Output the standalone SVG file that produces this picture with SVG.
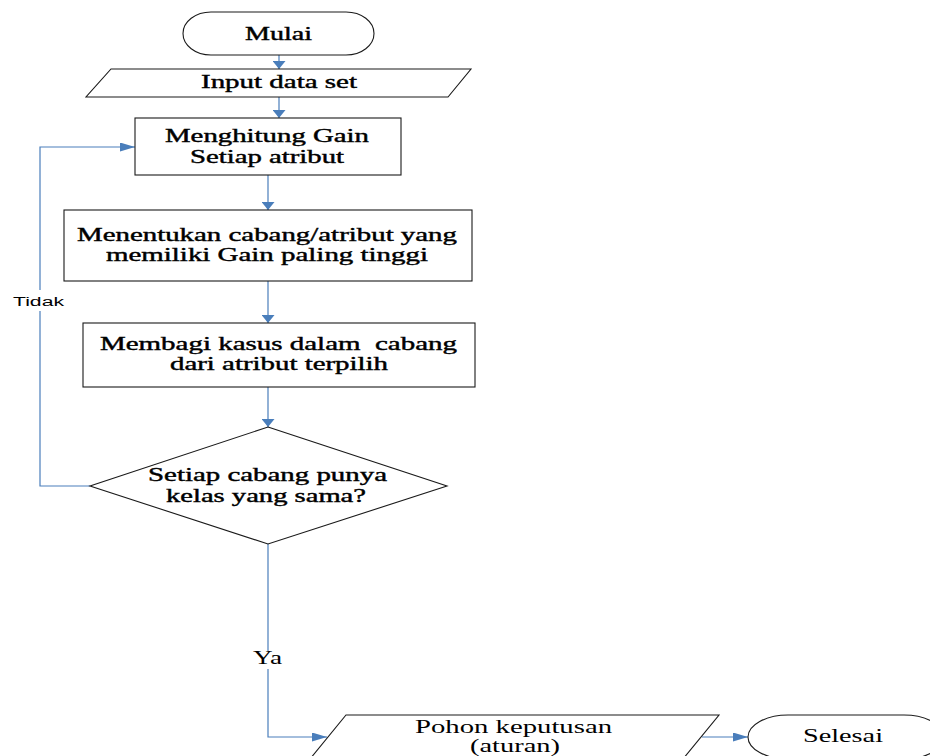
<svg xmlns="http://www.w3.org/2000/svg" width="930" height="756" viewBox="0 0 930 756">
<style>
.shape{fill:#fff;stroke:#1a1a1a;stroke-width:1.1}
.conn{fill:none;stroke:#4A7EBB;stroke-width:1.2}
.t{font-family:"Liberation Serif","Times New Roman",serif;font-size:18px;fill:#000}
.b{stroke:#000;stroke-width:0.4}
.s{font-family:"Liberation Sans",Arial,sans-serif;font-size:12px;fill:#000}
</style>
<defs>
<marker id="arrowV" markerUnits="userSpaceOnUse" viewBox="0 0 8 13" markerWidth="8" markerHeight="13" refX="8" refY="6.5" orient="auto"><path d="M0,0 L8,6.5 L0,13 Z" fill="#4A7EBB"/></marker>
<marker id="arrowH" markerUnits="userSpaceOnUse" viewBox="0 0 15 9" markerWidth="15" markerHeight="9" refX="15" refY="4.5" orient="auto"><path d="M0,0 L15,4.5 L0,9 Z" fill="#4A7EBB"/></marker>
</defs>
<rect width="930" height="756" fill="#fff"/>
<g id="connectors">
<path class="conn" d="M279,55 V69" marker-end="url(#arrowV)"/>
<path class="conn" d="M279,97 V118" marker-end="url(#arrowV)"/>
<path class="conn" d="M268,175 V210" marker-end="url(#arrowV)"/>
<path class="conn" d="M268,281 V323" marker-end="url(#arrowV)"/>
<path class="conn" d="M268,387 V427" marker-end="url(#arrowV)"/>
<path class="conn" d="M90,486 H40 V311"/>
<path class="conn" d="M40,290 V147 H135" marker-end="url(#arrowH)"/>
<path class="conn" d="M268,544 V651"/>
<path class="conn" d="M268,669 V737 H327" marker-end="url(#arrowH)"/>
<path class="conn" d="M702,737 H748" marker-end="url(#arrowH)"/>
<text class="s" x="13" y="306" textLength="51" lengthAdjust="spacingAndGlyphs">Tidak</text>
<text class="t" x="253" y="664" textLength="29" lengthAdjust="spacingAndGlyphs">Ya</text>
</g>
<g id="mulai">
<path class="shape" d="M211,12 H346 A28,21.5 0 0 1 346,55 H211 A28,21.5 0 0 1 211,12 Z"/>
<text class="t b" x="245" y="40" textLength="67" lengthAdjust="spacingAndGlyphs">Mulai</text>
</g>
<g id="input">
<polygon class="shape" points="111,69 471,69 448,97 86,97"/>
<text class="t b" x="201" y="88" textLength="156" lengthAdjust="spacingAndGlyphs">Input data set</text>
</g>
<g id="hitung">
<rect class="shape" x="135" y="118" width="266" height="57"/>
<text class="t b" x="165" y="142" textLength="204" lengthAdjust="spacingAndGlyphs">Menghitung Gain</text>
<text class="t b" x="190" y="163" textLength="154" lengthAdjust="spacingAndGlyphs">Setiap atribut</text>
</g>
<g id="tentukan">
<rect class="shape" x="64" y="210" width="408" height="71"/>
<text class="t b" x="77" y="241" textLength="380" lengthAdjust="spacingAndGlyphs">Menentukan cabang/atribut yang</text>
<text class="t b" x="106" y="261" textLength="322" lengthAdjust="spacingAndGlyphs">memiliki Gain paling tinggi</text>
</g>
<g id="bagi">
<rect class="shape" x="83" y="323" width="392" height="64"/>
<text class="t b" x="100" y="350" textLength="357" lengthAdjust="spacingAndGlyphs" xml:space="preserve">Membagi kasus dalam  cabang</text>
<text class="t b" x="170" y="370" textLength="218" lengthAdjust="spacingAndGlyphs">dari atribut terpilih</text>
</g>
<g id="keputusan">
<polygon class="shape" points="268,427 447,486 268,544 90,486"/>
<text class="t b" x="148" y="481" textLength="239" lengthAdjust="spacingAndGlyphs">Setiap cabang punya</text>
<text class="t b" x="166" y="502" textLength="200" lengthAdjust="spacingAndGlyphs">kelas yang sama?</text>
</g>
<g id="pohon">
<polygon class="shape" points="346,715 719,715 683,759 310,759"/>
<text class="t" x="415" y="733" textLength="197" lengthAdjust="spacingAndGlyphs">Pohon keputusan</text>
<text class="t" x="470" y="752" textLength="90" lengthAdjust="spacingAndGlyphs">(aturan)</text>
</g>
<g id="selesai">
<path class="shape" d="M788,715 H904 A40,22 0 0 1 904,759 H788 A40,22 0 0 1 788,715 Z"/>
<text class="t" x="803" y="742" textLength="80" lengthAdjust="spacingAndGlyphs">Selesai</text>
</g>
</svg>
